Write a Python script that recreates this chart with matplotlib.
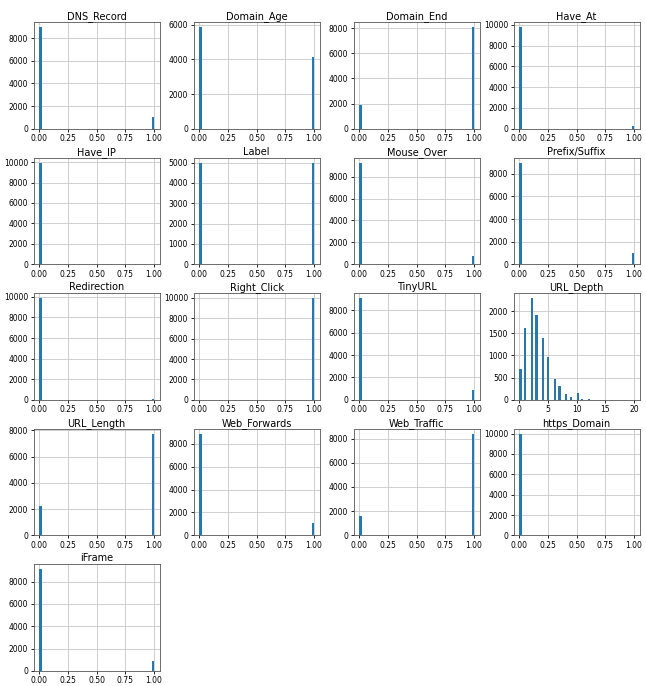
import numpy as np
import matplotlib
matplotlib.use("Agg")
import matplotlib.pyplot as plt

# feature names (alphabetical, as pandas hist lays them out)
features = ['DNS_Record', 'Domain_Age', 'Domain_End', 'Have_At', 'Have_IP',
            'Label', 'Mouse_Over', 'Prefix/Suffix', 'Redirection',
            'Right_Click', 'TinyURL', 'URL_Depth', 'URL_Length',
            'Web_Forwards', 'Web_Traffic', 'https_Domain', 'iFrame']

# binary features: counts of value 0 and value 1
binary_values = [0, 1]
count_0 = {'DNS_Record': 8980, 'Domain_Age': 5870, 'Domain_End': 1900,
           'Have_At': 9780, 'Have_IP': 9950, 'Label': 5000,
           'Mouse_Over': 9290, 'Prefix/Suffix': 8990, 'Redirection': 9880,
           'Right_Click': 20, 'TinyURL': 9100, 'URL_Length': 2250,
           'Web_Forwards': 8880, 'Web_Traffic': 1600, 'https_Domain': 9995,
           'iFrame': 9100}
count_1 = {'DNS_Record': 1020, 'Domain_Age': 4130, 'Domain_End': 8100,
           'Have_At': 220, 'Have_IP': 50, 'Label': 5000,
           'Mouse_Over': 710, 'Prefix/Suffix': 1010, 'Redirection': 120,
           'Right_Click': 9980, 'TinyURL': 900, 'URL_Length': 7750,
           'Web_Forwards': 1120, 'Web_Traffic': 8400, 'https_Domain': 5,
           'iFrame': 900}

# URL_Depth: integer depth values and their counts
depth_values = [0, 1, 2, 3, 4, 5, 6, 7, 8, 9, 10, 11, 12, 13, 14, 15, 16, 17, 20]
depth_counts = [690, 1610, 2290, 1900, 1390, 960, 470, 300, 130, 60, 150,
                25, 10, 5, 5, 2, 1, 1, 1]

fig, axes = plt.subplots(5, 4, figsize=(6.46, 6.86), dpi=100)
fig.subplots_adjust(left=0.052, right=0.99, top=0.968, bottom=0.022,
                    wspace=0.27, hspace=0.27)

bar_kw = dict(bins=50, color='#2a78ab')

for ax, name in zip(axes.flat, features):
    if name == 'URL_Depth':
        ax.hist(depth_values, weights=depth_counts, **bar_kw)
    else:
        ax.hist(binary_values, weights=[count_0[name], count_1[name]], **bar_kw)
        ax.set_xticks([0, 0.25, 0.5, 0.75, 1.0])
    ax.set_title(name, fontsize=7, pad=2)
    ax.grid(True, color='#c8c8c8', linewidth=0.6)
    ax.set_axisbelow(True)
    ax.tick_params(labelsize=5.5, length=2.5, pad=1.5, width=0.6)
    for s in ax.spines.values():
        s.set_linewidth(0.6)
        s.set_color('#555555')

# hide unused panels
for ax in axes.flat[len(features):]:
    ax.remove()

plt.savefig('out.png', dpi=100)
